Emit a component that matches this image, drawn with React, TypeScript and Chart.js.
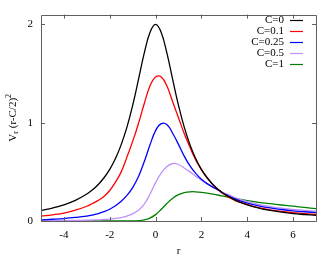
import React, { useEffect, useRef } from "react";
import { Chart, registerables } from "chart.js";

Chart.register(...registerables);

const rValues = [-5, -4.5, -4, -3.5, -3, -2.75, -2.5, -2.25, -2, -1.75, -1.5, -1.25, -1, -0.75, -0.5, -0.25, 0, 0.25, 0.5, 0.75, 1, 1.25, 1.5, 1.75, 2, 2.25, 2.5, 2.75, 3, 3.5, 4, 4.5, 5, 5.5, 6, 6.5, 7];
const seriesLabels = ["C=0", "C=0.1", "C=0.25", "C=0.5", "C=1"];
const c0 = [0.108, 0.132, 0.164, 0.209, 0.274, 0.318, 0.372, 0.44, 0.526, 0.636, 0.777, 0.955, 1.176, 1.435, 1.702, 1.916, 2.0, 1.916, 1.702, 1.435, 1.176, 0.955, 0.777, 0.636, 0.526, 0.44, 0.372, 0.318, 0.274, 0.209, 0.164, 0.132, 0.108, 0.09, 0.076, 0.066, 0.057];
const c01 = [0.05, 0.063, 0.08, 0.11, 0.15, 0.178, 0.21, 0.25, 0.31, 0.395, 0.5, 0.65, 0.81, 0.99, 1.19, 1.37, 1.465, 1.465, 1.37, 1.21, 1.05, 0.89, 0.75, 0.62, 0.52, 0.44, 0.37, 0.315, 0.27, 0.205, 0.168, 0.135, 0.113, 0.097, 0.085, 0.075, 0.067];
const c025 = [0.012, 0.018, 0.025, 0.036, 0.05, 0.061, 0.075, 0.095, 0.12, 0.155, 0.2, 0.26, 0.34, 0.45, 0.6, 0.77, 0.92, 0.99, 0.98, 0.89, 0.78, 0.66, 0.56, 0.485, 0.425, 0.38, 0.345, 0.31, 0.275, 0.22, 0.183, 0.155, 0.133, 0.117, 0.104, 0.094, 0.086];
const c05 = [0.002, 0.003, 0.004, 0.006, 0.008, 0.01, 0.012, 0.016, 0.02, 0.027, 0.035, 0.05, 0.073, 0.11, 0.17, 0.27, 0.39, 0.49, 0.555, 0.585, 0.575, 0.54, 0.5, 0.455, 0.415, 0.378, 0.345, 0.313, 0.285, 0.235, 0.196, 0.168, 0.147, 0.13, 0.118, 0.108, 0.1];
const c1 = [0, 0, 0, 0, 0, 0, 0, 0, 0, 0, 0, 0, 0.001, 0.004, 0.012, 0.03, 0.065, 0.12, 0.18, 0.232, 0.268, 0.288, 0.297, 0.297, 0.292, 0.283, 0.273, 0.262, 0.25, 0.228, 0.207, 0.19, 0.176, 0.163, 0.151, 0.138, 0.125];
const seriesValues = [c0, c01, c025, c05, c1];
const seriesColors = ["#000000", "#ff0000", "#0000ff", "#c090ff", "#008000"];
const xTicks = [-4, -2, 0, 2, 4, 6];
const yTicks = [0, 1, 2];

const FONT = "'Liberation Serif', 'Times New Roman', serif";

const framePlugin = {
  id: "frame",
  afterDraw(chart: any) {
    const ctx = chart.ctx;
    const { left, right, top, bottom } = chart.chartArea;
    const xs = chart.scales.x;
    const ys = chart.scales.y;
    ctx.save();
    ctx.strokeStyle = "#606060";
    ctx.lineWidth = 1;
    ctx.beginPath();
    ctx.rect(Math.round(left) + 0.5, Math.round(top) + 0.5, Math.round(right - left), Math.round(bottom - top));
    ctx.stroke();
    const tl = 4;
    ctx.beginPath();
    for (const v of xTicks) {
      const px = Math.round(xs.getPixelForValue(v)) + 0.5;
      ctx.moveTo(px, bottom);
      ctx.lineTo(px, bottom - tl);
      ctx.moveTo(px, top);
      ctx.lineTo(px, top + tl);
    }
    for (const v of yTicks) {
      const py = Math.round(ys.getPixelForValue(v)) + 0.5;
      ctx.moveTo(left, py);
      ctx.lineTo(left + tl, py);
      ctx.moveTo(right, py);
      ctx.lineTo(right - tl, py);
    }
    ctx.stroke();

    ctx.fillStyle = "#000";
    ctx.font = `11px ${FONT}`;
    ctx.textAlign = "center";
    ctx.textBaseline = "middle";
    ctx.fillText("r", (left + right) / 2, 251);

    ctx.save();
    ctx.translate(13, (top + bottom) / 2);
    ctx.rotate(-Math.PI / 2);
    const big = `11px ${FONT}`;
    const small = `8px ${FONT}`;
    const parts = [
      { t: "V", f: big, dy: 0 },
      { t: "r", f: small, dy: 3 },
      { t: " (r-C/2)", f: big, dy: 0 },
      { t: "2", f: small, dy: -4 },
    ];
    let total = 0;
    for (const p of parts) {
      ctx.font = p.f;
      total += ctx.measureText(p.t).width;
    }
    let x = -total / 2;
    ctx.textAlign = "left";
    for (const p of parts) {
      ctx.font = p.f;
      ctx.fillText(p.t, x, p.dy);
      x += ctx.measureText(p.t).width;
    }
    ctx.restore();

    ctx.font = `11px ${FONT}`;
    ctx.textAlign = "right";
    ctx.textBaseline = "middle";
    chart.data.datasets.forEach((ds: any, i: number) => {
      const y = 20 + i * 11;
      ctx.fillStyle = "#000";
      ctx.fillText(ds.label, 284, y);
      ctx.strokeStyle = ds.borderColor;
      ctx.lineWidth = 1.2;
      ctx.beginPath();
      ctx.moveTo(290, Math.round(y) + 0.5);
      ctx.lineTo(303, Math.round(y) + 0.5);
      ctx.stroke();
    });
    ctx.restore();
  },
};

export default function App() {
  const ref = useRef<HTMLCanvasElement | null>(null);
  useEffect(() => {
    if (!ref.current) return;
    const datasets = seriesLabels.map((label, i) => ({
      label,
      data: rValues.map((r, j) => ({ x: r, y: seriesValues[i][j] })),
      borderColor: seriesColors[i],
      backgroundColor: seriesColors[i],
      borderWidth: 1.3,
      pointRadius: 0,
      tension: 0.4,
      fill: false,
    }));
    const chart = new Chart(ref.current, {
      type: "line",
      data: { datasets },
      options: {
        animation: false,
        responsive: false,
        layout: { padding: { top: 11, right: 20, left: 0, bottom: 0 } },
        plugins: { legend: { display: false }, tooltip: { enabled: false } },
        scales: {
          x: {
            type: "linear",
            min: -5,
            max: 7,
            grid: { display: false, drawTicks: false },
            border: { display: false },
            ticks: { padding: 8, color: "#000", font: { family: FONT, size: 11 }, maxRotation: 0 },
            afterBuildTicks: (s: any) => {
              s.ticks = xTicks.map((v) => ({ value: v }));
            },
            afterFit: (s: any) => {
              s.height = 37;
            },
          },
          y: {
            type: "linear",
            min: 0,
            max: 2.1,
            grid: { display: false, drawTicks: false },
            border: { display: false },
            ticks: { padding: 8, color: "#000", font: { family: FONT, size: 11 } },
            afterBuildTicks: (s: any) => {
              s.ticks = yTicks.map((v) => ({ value: v }));
            },
            afterFit: (s: any) => {
              s.width = 41;
            },
          },
        },
      },
      plugins: [framePlugin],
    });
    return () => chart.destroy();
  }, []);
  return (
    <div style={{ position: "fixed", left: 0, top: 0, width: 336, height: 258, background: "#fff" }}>
      <canvas ref={ref} width={336} height={258} style={{ width: 336, height: 258 }} />
    </div>
  );
}
